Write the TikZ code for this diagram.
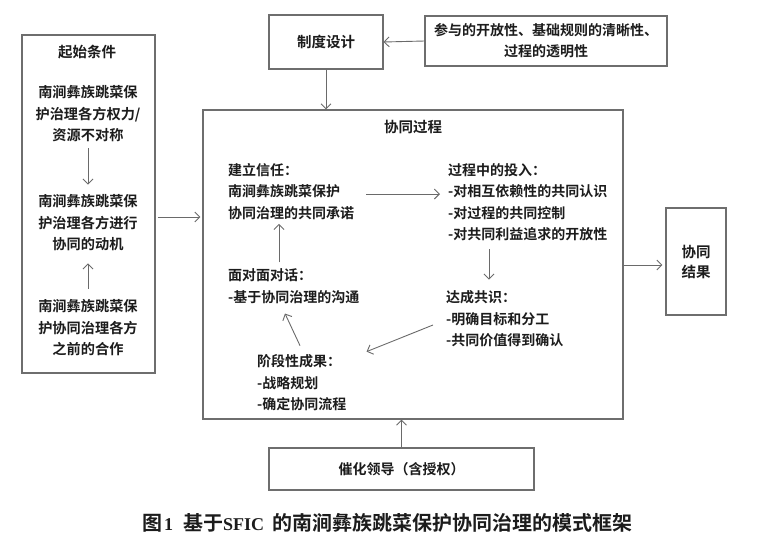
\documentclass[tikz,border=0pt]{standalone}
\usepackage{fontspec}
\usetikzlibrary{arrows.meta,calc}
\newfontfamily\cjk{Noto Sans CJK SC}[BoldFont={Noto Sans CJK SC Bold}]
\newfontfamily\latserif{Liberation Serif}
\definecolor{boxgray}{HTML}{6E6E6E}
\definecolor{linegray}{HTML}{6A6A6A}
\definecolor{ink}{HTML}{1C1C1C}
\begin{document}
\begin{tikzpicture}[x=1pt,y=-1pt,
  box/.style={draw=boxgray,line width=1.1pt,inner sep=0},
  txt/.style={font=\cjk\bfseries\fontsize{14}{21.5}\selectfont,text=ink,inner sep=0,align=left},
  ctxt/.style={font=\cjk\bfseries\fontsize{14.2}{21.5}\selectfont,text=ink,inner sep=0,align=center},
  arr/.style={draw=linegray,line width=0.9pt,-{Straight Barb[length=5pt,width=10pt]}}]
\useasboundingbox (0,0) rectangle (780,552);
% left box
\node[box,minimum width=133pt,minimum height=338pt] (leftbox) at (88.5,204) {};
\node[ctxt,font=\cjk\bfseries\fontsize{14.5}{21.5}\selectfont] (t0) at (87,52) {起始条件};
\node[ctxt] (lp1) at (88,114) {南涧彝族跳菜保\\护治理各方权力/\\资源不对称};
\node[ctxt] (lp2) at (88,223) {南涧彝族跳菜保\\护治理各方进行\\协同的动机};
\node[ctxt] (lp3) at (88,328) {南涧彝族跳菜保\\护协同治理各方\\之前的合作};
\draw[arr,shorten <=6pt,shorten >=10pt] (lp1.south) -- (lp2.north);
\draw[arr,shorten <=11pt,shorten >=12pt] (lp3.north) -- (lp2.south);
% top boxes
\node[box,minimum width=114pt,minimum height=54pt,font=\cjk\bfseries\fontsize{14.5}{20}\selectfont,text=ink] (zhidu) at (326,42) {制度设计};
\node[box,minimum width=242pt,minimum height=50pt,font=\cjk\bfseries\fontsize{14}{21}\selectfont,text=ink,align=center] (canyu) at (546,41) {参与的开放性、基础规则的清晰性、\\过程的透明性};
\draw[arr] (canyu.west) -- (zhidu.east);
% process box
\node[box,minimum width=420pt,minimum height=309pt] (proc) at (413,264.5) {};
\draw[arr] (zhidu.south) -- (zhidu.south |- proc.north);
\node[ctxt,font=\cjk\bfseries\fontsize{14.5}{21.5}\selectfont] (ptitle) at (413,127) {协同过程};
\node[txt,anchor=west] (b1) at (228,191.5) {建立信任：\\南涧彝族跳菜保护\\协同治理的共同承诺};
\node[txt,anchor=west] (b2) at (448,202) {过程中的投入：\\-对相互依赖性的共同认识\\-对过程的共同控制\\-对共同利益追求的开放性};
\node[txt,anchor=west] (b3) at (446,319) {达成共识：\\-明确目标和分工\\-共同价值得到确认};
\node[txt,anchor=west] (b4) at (257,383) {阶段性成果：\\-战略规划\\-确定协同流程};
\node[txt,anchor=west] (b5) at (228,286) {面对面对话：\\-基于协同治理的沟通};
\draw[arr] ([shift={(12,2.5)}]b1.east) -- ([shift={(-8,-8)}]b2.west);
\draw[arr] ([shift={(41,8)}]b2.south west) -- ([shift={(43,-11)}]b3.north west);
\draw[arr] ([shift={(-13,6)}]b3.west) -- ([shift={(20,-3)}]b4.north east);
\draw[arr] ([shift={(43,-9)}]b4.north west) -- ([shift={(57,10)}]b5.south west);
\draw[arr] ([shift={(51,-6)}]b5.north west) -- ([shift={(51,4)}]b1.south west);
% left to process
\draw[arr] ([shift={(2,-6)}]leftbox.east |- lp2) -- ([shift={(-2,-6)}]proc.west |- lp2);
% result
\node[box,minimum width=60pt,minimum height=107pt,font=\cjk\bfseries\fontsize{14.5}{20}\selectfont,text=ink,align=center] (result) at (696,261.5) {协同\\结果};
\draw[arr,shorten >=3pt] ([shift={(0,3.5)}]proc.east |- result.west) -- ([shift={(0,3.5)}]result.west);
% bottom
\node[box,minimum width=265pt,minimum height=42pt,font=\cjk\bfseries\fontsize{14}{20}\selectfont,text=ink] (cuihua) at (401.5,469) {催化领导（含授权）};
\draw[arr] (cuihua.north) -- (cuihua.north |- proc.south);
% caption
\node[font=\cjk\bfseries\fontsize{20}{22}\selectfont,text=ink,inner sep=0,anchor=west] (cap) at (142,523) {图\kern2pt{\latserif\bfseries\fontsize{18}{22}\selectfont 1}\kern10pt 基于{\latserif\bfseries\fontsize{18}{22}\selectfont SFIC}\kern8pt 的南涧彝族跳菜保护协同治理的模式框架};
\end{tikzpicture}
\end{document}
